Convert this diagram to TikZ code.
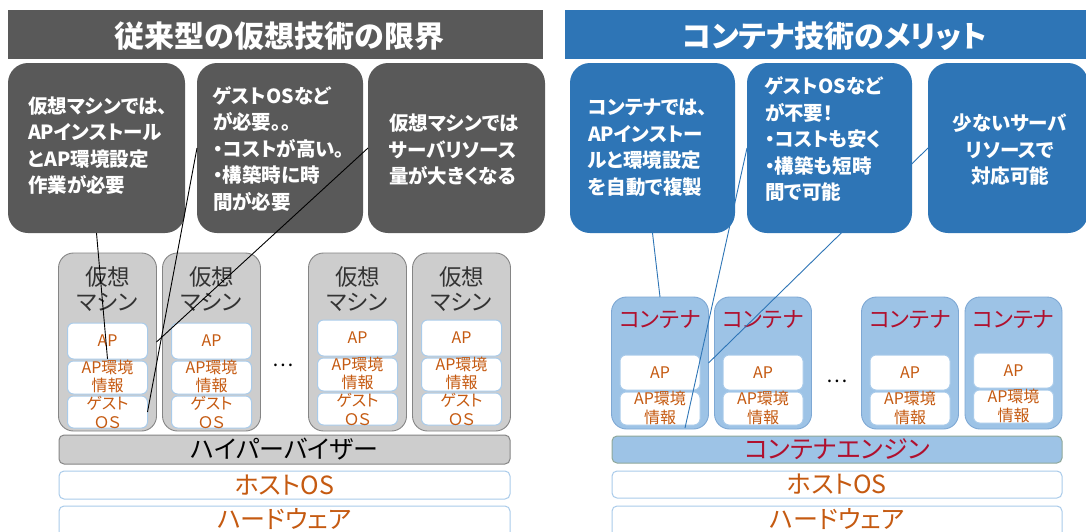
\documentclass[tikz,border=0pt]{standalone}
\usepackage{fontspec}
\newfontfamily\jp[RawFeature=+palt]{Noto Sans CJK JP}
\definecolor{dgray}{HTML}{595959}
\definecolor{cblue}{HTML}{2E75B6}
\definecolor{vmgray}{HTML}{CDCDCD}
\definecolor{vmborder}{HTML}{858585}
\definecolor{lblue}{HTML}{9DC3E6}
\definecolor{cborder}{HTML}{7EA8D4}
\definecolor{inborder}{HTML}{A9CBEA}
\definecolor{orng}{HTML}{C55A11}
\definecolor{crim}{HTML}{B0102E}
\definecolor{labgray}{HTML}{333333}
\definecolor{engborder}{HTML}{8FA89A}
\begin{document}
\begin{tikzpicture}[x=1pt,y=-1pt,
  every node/.style={inner sep=0pt, outer sep=0pt},
  titlebarL/.style={fill=dgray},
  titlebarR/.style={fill=cblue},
  titletext/.style={text=white, font=\jp\bfseries\fontsize{30}{36}\selectfont},
  callL/.style={fill=dgray, rounded corners=20pt, minimum height=170pt},
  callR/.style={fill=cblue, rounded corners=20pt, minimum height=170pt},
  ctext/.style={text=white, align=left, font=\jp\bfseries\fontsize{19.5}{26.5}\selectfont},
  vmbox/.style={fill=vmgray, draw=vmborder, line width=0.9pt, rounded corners=15pt, minimum width=98pt, minimum height=178pt},
  cbox/.style={fill=lblue, draw=cborder, line width=0.9pt, rounded corners=15pt, minimum width=97pt, minimum height=132pt},
  inbox/.style={fill=white, draw=inborder, line width=1pt, rounded corners=6pt, minimum width=80pt, text=orng, font=\jp\fontsize{16}{18}\selectfont},
  intext/.style={text=orng, align=center, font=\jp\fontsize{16}{18.5}\selectfont},
  vmlabel/.style={text=labgray, align=center, font=\jp\fontsize{22.5}{25}\selectfont},
  clabel/.style={text=crim, font=\jp\fontsize{22}{25}\selectfont},
  layerbox/.style={rounded corners=5pt, line width=1pt, minimum height=27pt},
  layertext/.style={font=\jp\fontsize{25}{28}\selectfont},
  dotstext/.style={text=black, font=\jp\fontsize{20}{22}\selectfont},
  lineL/.style={draw=black, line width=0.9pt},
  lineR/.style={draw=cblue, line width=0.9pt}]
\useasboundingbox (0,0) rectangle (1086,531);
\clip (0,0) rectangle (1086,531);
\fill[white] (0,0) rectangle (1086,531);

% ---------- titles ----------
\node[titlebarL, minimum width=535pt, minimum height=49pt] (tL) at (275.5,34.5) {};
\node[titletext] (tLt) at (279.5,36) {従来型の仮想技術の限界};
\node[titlebarR, minimum width=521pt, minimum height=49pt] (tR) at (825.5,34.5) {};
\node[titletext] (tRt) at (834.5,36) {コンテナ技術のメリット};

% ---------- left callouts ----------
\node[callL, minimum width=177pt] (b1) at (96.5,148) {};
\node[callL, minimum width=166pt] (b2) at (280,148) {};
\node[callL, minimum width=177pt] (b3) at (456.5,148) {};
\node[ctext, anchor=west] (b1t) at (28,145.5) {仮想マシンでは、\\APインストール\\とAP環境設定\\作業が必要};
\node[ctext, anchor=west] (b2t) at (213,149) {ゲストOSなど\\が必要。。\\・コストが高い。\\・構築時に時\\間が必要};
\node[ctext, anchor=west] (b3t) at (389,150) {仮想マシンでは\\サーバリソース\\量が大きくなる};

% ---------- right callouts ----------
\node[callR, minimum width=165pt] (rb1) at (652.5,148) {};
\node[callR, minimum width=165pt] (rb2) at (829.5,148) {};
\node[callR, minimum width=160pt] (rb3) at (1008,148) {};
\node[ctext, anchor=west] (rb1t) at (588,147.5) {コンテナでは、\\APインストー\\ルと環境設定\\を自動で複製};
\node[ctext, anchor=west] (rb2t) at (765,139) {ゲストOSなど\\が不要！\\・コストも安く\\・構築も短時\\間で可能};
\node[ctext, align=center] (rb3t) at (1010,150) {少ないサーバ\\リソースで\\対応可能};

% ---------- virtual machines ----------
\foreach \i/\cx/\dy in {1/107.5/0,2/211.5/0,3/357.5/-3,4/461.5/-3}{
  \node[vmbox] (vm\i) at (\cx,342) {};
  \node[vmlabel] (vm\i-lab) at (\cx,289.5) {仮想\\マシン};
  \node[inbox, minimum height=36pt] (vm\i-ap) at (\cx,341+\dy) {AP};
  \node[inbox, minimum height=33pt] (vm\i-env) at (\cx,377.5+\dy) {};
  \node[intext] (vm\i-envt) at (\cx,376.5+\dy) {AP環境\\情報};
  \node[inbox, minimum height=32pt] (vm\i-os) at (\cx,412+\dy) {};
  \node[intext] (vm\i-ost) at (\cx,412.5+\dy) {ゲスト\\ＯＳ};
}
\node[dotstext] (dL) at (283,365) {…};

% ---------- containers ----------
\foreach \i/\cx/\dy in {1/660/0,2/763/0,3/910/0,4/1013.5/-2}{
  \node[cbox] (c\i) at (\cx,363) {};
  \node[clabel] (c\i-lab) at (\cx,320) {コンテナ};
  \node[inbox, minimum height=35pt] (c\i-ap) at (\cx,372.5+\dy) {AP};
  \node[inbox, minimum height=33pt] (c\i-env) at (\cx,408.5+\dy) {};
  \node[intext] (c\i-envt) at (\cx,408+\dy) {AP環境\\情報};
}
\node[dotstext] (dR) at (837,381) {…};

% ---------- layers ----------
\node[layerbox, fill=vmgray, draw=vmborder, minimum width=451pt, minimum height=29pt] (hv) at (284.5,449.5) {};
\node[layertext, text=black] (hvt) at (284.5,449) {ハイパーバイザー};
\node[layerbox, fill=white, draw=inborder, minimum width=451pt, minimum height=28pt] (hosL) at (284.5,485) {};
\node[layertext, text=orng] (hosLt) at (284.5,485) {ホストOS};
\node[layerbox, fill=white, draw=inborder, minimum width=451pt, minimum height=34pt] (hwL) at (284.5,523) {};
\node[layertext, text=orng] (hwLt) at (284.5,519.5) {ハードウェア};

\node[layerbox, fill=lblue, draw=engborder, minimum width=450pt] (eng) at (837,449.5) {};
\node[layertext, text=crim] (engt) at (837,449) {コンテナエンジン};
\node[layerbox, fill=white, draw=inborder, minimum width=450pt] (hosR) at (837,484.5) {};
\node[layertext, text=orng] (hosRt) at (837,484.5) {ホストOS};
\node[layerbox, fill=white, draw=inborder, minimum width=450pt, minimum height=34pt] (hwR) at (837,523) {};
\node[layertext, text=orng] (hwRt) at (837,519.5) {ハードウェア};

% ---------- connectors ----------
\draw[lineL] (b1.south) -- (vm1-ap.south);
\draw[lineL] (b2.west) -- (vm1-os.east);
\draw[lineL] (b3.west) -- (vm1.east);
\coordinate (r2end) at (685,428);
\draw[lineR] (rb1.south) -- (c1.north);
\draw[lineR] (rb2.west) -- (r2end);
\draw[lineR] (rb3.west) -- (c1.east);
\end{tikzpicture}
\end{document}
